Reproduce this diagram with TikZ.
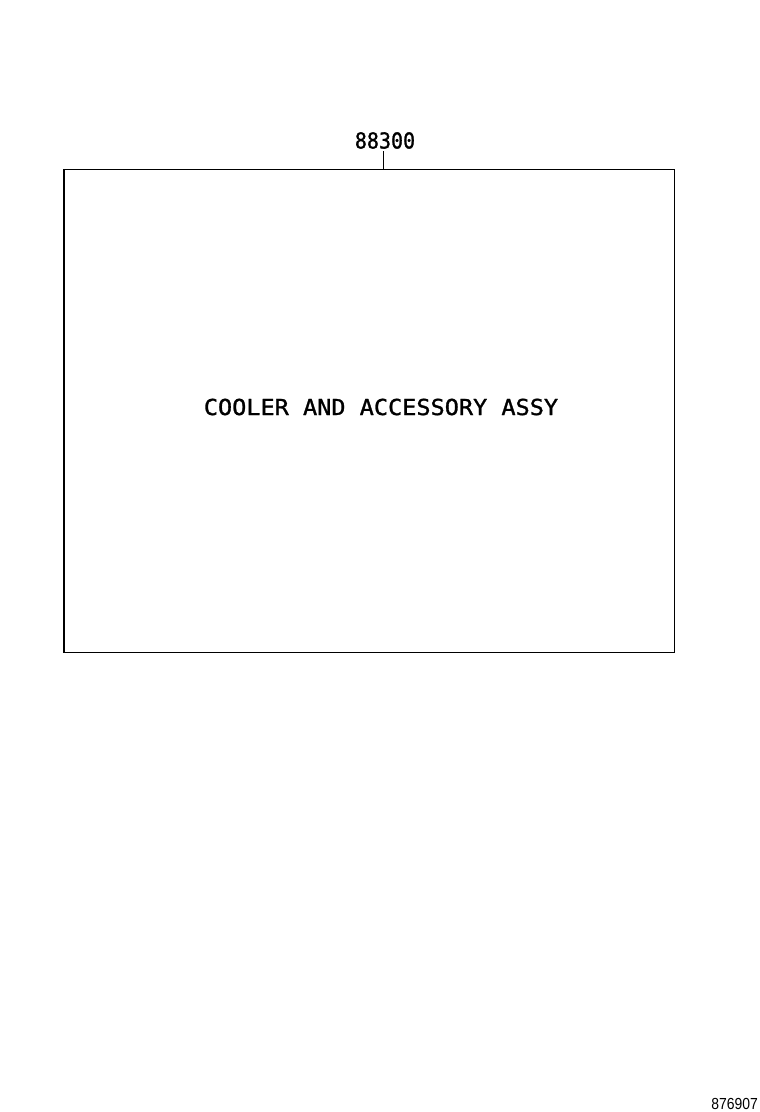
\documentclass[tikz,border=0pt]{standalone}
\usepackage{fontspec}
\newfontfamily\plotfont[FakeBold=1.2]{DejaVu Sans Mono}
\newfontfamily\idfont{Liberation Sans}
\usetikzlibrary{positioning}

\begin{document}
\begin{tikzpicture}[x=1pt,y=-1pt,
        frame/.style={draw,rectangle,line width=1pt,minimum width=611pt,minimum height=483.5pt,inner sep=0pt,outer sep=0pt},
        partno/.style={font=\plotfont\fontsize{22}{22}\selectfont,inner sep=0pt,xscale=0.91},
        title/.style={font=\plotfont\fontsize{22}{22}\selectfont,inner sep=0pt,xscale=1.07},
        drawingno/.style={font=\idfont\fontsize{16}{16}\selectfont,inner sep=0pt,xscale=0.87}]

        \useasboundingbox (0,0) rectangle (760,1112);

        \node[frame] (box) at (369,410.75) {};
        \draw[line width=2pt] (box.north west) -- (box.south west);
        \node[title] (name) at (381,407) {COOLER AND ACCESSORY ASSY};

        \node[partno] (num) at (385,140.5) {88300};
        \coordinate (tip) at (383,169);
        \draw[line width=1pt] (num.south -| tip) ++(0,2) -- (tip);

        \node[drawingno,anchor=south east] (id) at (758,1110) {876907};
\end{tikzpicture}
\end{document}
